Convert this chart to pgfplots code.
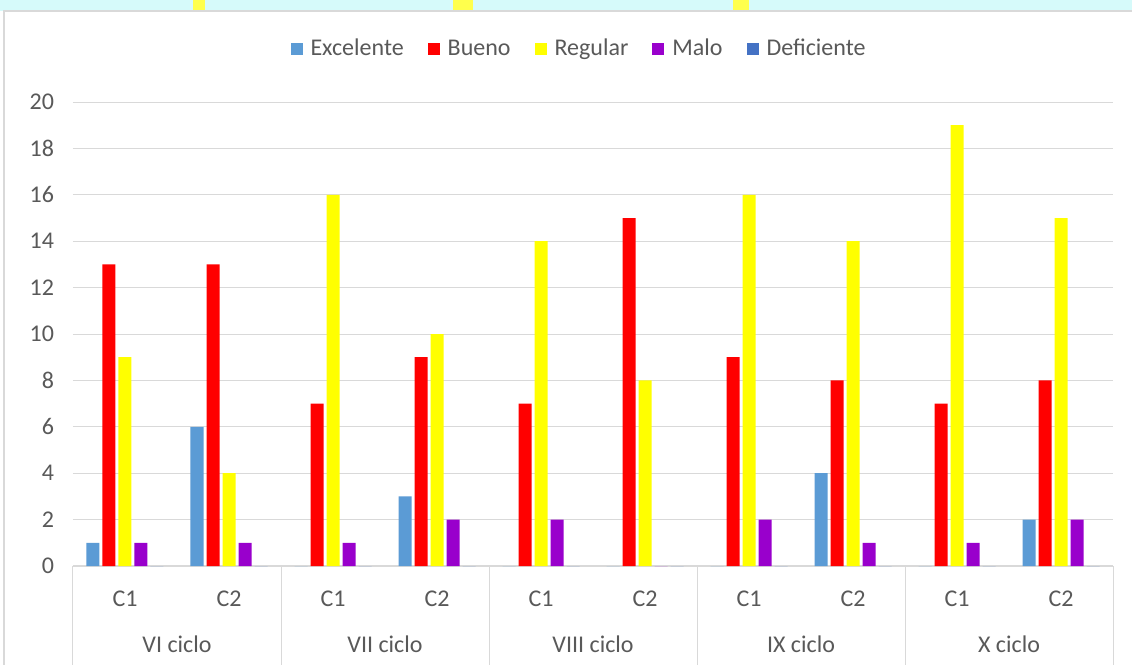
\documentclass[border=0pt]{standalone}
\usepackage{pgfplots}
\pgfplotsset{compat=1.18}
\usepackage{fontspec}
\setmainfont{Carlito}
\definecolor{exc}{HTML}{5B9BD5}
\definecolor{bue}{HTML}{FF0000}
\definecolor{reg}{HTML}{FFFF00}
\definecolor{mal}{HTML}{9900CC}
\definecolor{def}{HTML}{4472C4}
\definecolor{txt}{HTML}{595959}
\definecolor{grd}{HTML}{D9D9D9}
\definecolor{wm}{HTML}{D6FAFA}
\begin{document}
\begin{tikzpicture}
\path[use as bounding box] (-36.5pt,-49.5pt) rectangle (529.5pt,283pt);
% watermark strip at the top
\fill[wm] (-36.5pt,277pt) rectangle (529.5pt,283pt);
\fill[reg!70] (60pt,277pt) rectangle (66pt,283pt);
\fill[reg!70] (190pt,277pt) rectangle (200pt,283pt);
\fill[reg!70] (330pt,277pt) rectangle (338pt,283pt);
\fill[white] (-36.5pt,-49.5pt) rectangle (531pt,277.5pt);
\draw[grd, line width=0.75pt] (-34.5pt,-52pt) -- (-34.5pt,277.5pt) -- (532pt,277.5pt);
\begin{axis}[
    at={(0,0)}, anchor=south west,
    scale only axis,
    width=520pt, height=232pt,
    ybar=1.5pt, bar width=6.5pt,
    xmin=-0.5, xmax=9.5,
    ymin=0, ymax=20,
    ytick={0,2,...,20},
    xtick={0,...,9},
    xticklabels={C1,C2,C1,C2,C1,C2,C1,C2,C1,C2},
    major tick length=0pt,
    ymajorgrids,
    grid style={grd, line width=0.5pt},
    axis x line*=bottom,
    axis y line*=left,
    y axis line style={draw=none},
    x axis line style={grd, line width=0.5pt, -},
    font=\fontsize{12}{14}\selectfont,
    every tick label/.append style={text=txt},
    yticklabel style={xshift=-6pt},
    xticklabel style={yshift=-9pt},
    /pgf/number format/assume math mode=true,
    clip=false,
    legend columns=5,
    legend style={draw=none, fill=none, at={(0.4875,1.114)}, anchor=center,
        font=\fontsize{12}{14}\selectfont, text=txt,
        nodes={text height=8pt, text depth=2pt, inner sep=2pt},
        /tikz/every odd column/.append style={column sep=2pt},
        /tikz/every even column/.append style={column sep=10pt}},
    legend image code/.code={\fill[#1] (0pt,-3pt) rectangle (6pt,3pt);},
]
\addplot[fill=exc, draw=none] coordinates {(0,1) (1,6) (2,0) (3,3) (4,0) (5,0) (6,0) (7,4) (8,0) (9,2)};
\addplot[fill=bue, draw=none] coordinates {(0,13) (1,13) (2,7) (3,9) (4,7) (5,15) (6,9) (7,8) (8,7) (9,8)};
\addplot[fill=reg, draw=none] coordinates {(0,9) (1,4) (2,16) (3,10) (4,14) (5,8) (6,16) (7,14) (8,19) (9,15)};
\addplot[fill=mal, draw=none] coordinates {(0,1) (1,1) (2,1) (3,2) (4,2) (5,0) (6,2) (7,1) (8,1) (9,2)};
\addplot[fill=def, draw=none] coordinates {(0,0) (1,0) (2,0) (3,0) (4,0) (5,0) (6,0) (7,0) (8,0) (9,0)};
\legend{Excelente,Bueno,Regular,Malo,Deficiente}
\foreach \x in {-0.5,1.5,3.5,5.5,7.5,9.5} {
  \edef\tmp{\noexpand\draw[grd, line width=0.5pt] (axis cs:\x,0) -- ++(0pt,-52pt);}\tmp
}
\foreach \x/\l in {0.5/VI ciclo,2.5/VII ciclo,4.5/VIII ciclo,6.5/IX ciclo,8.5/X ciclo} {
  \edef\tmp{\noexpand\node[text=txt, font=\noexpand\fontsize{12}{14}\noexpand\selectfont] at (axis cs:\x,0) [yshift=-39pt] {\l};}\tmp
}
\end{axis}
\end{tikzpicture}
\end{document}
